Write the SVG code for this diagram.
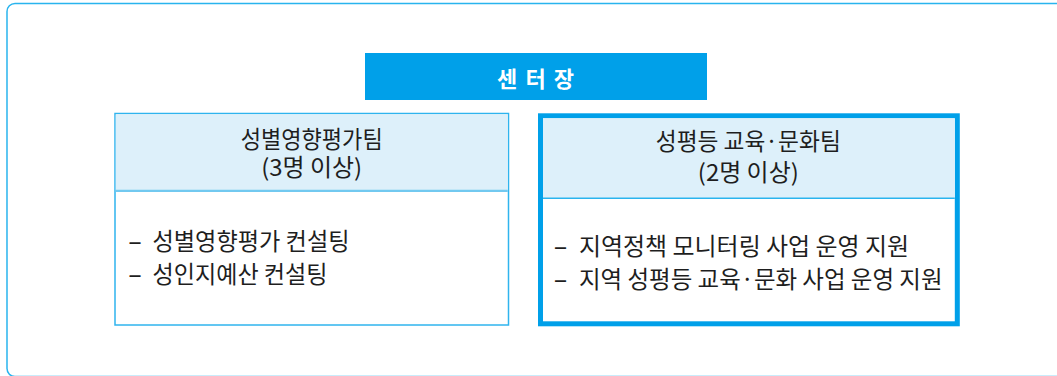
<svg xmlns="http://www.w3.org/2000/svg" width="1057" height="376" viewBox="0 0 1057 376">
<style>
.t{font-family:"Noto Sans CJK KR","Noto Sans",sans-serif;fill:#1e1e1e;font-size:23.5px}
.c{text-anchor:middle}
.hd{fill:#DDF0FA}
</style>
<rect width="1057" height="376" fill="#fff"/>
<rect x="7" y="3.5" width="1065" height="373" rx="8" fill="none" stroke="#29B4EE" stroke-width="1.5"/>
<g id="director">
<rect x="365" y="53" width="342" height="47" fill="#00A0E9"/>
<text x="535.5" y="86.5" class="t c" style="fill:#fff;font-weight:bold;font-size:22px" textLength="77" lengthAdjust="spacing">센 터 장</text>
</g>
<g id="team1">
<rect x="115" y="113.5" width="393.5" height="211.5" fill="#fff" stroke="#2FB4EE" stroke-width="1.5"/>
<rect x="115.75" y="114.25" width="392" height="76" class="hd"/>
<line x1="115.75" y1="190.8" x2="507.75" y2="190.8" stroke="#72C9F0" stroke-width="2.2"/>
<text x="311.7" y="147.5" class="t c" textLength="142" lengthAdjust="spacingAndGlyphs">성별영향평가팀</text>
<text x="311.7" y="175.5" class="t c" textLength="101" lengthAdjust="spacingAndGlyphs">(3명 이상)</text>
<text class="t" y="250"><tspan x="127.5" textLength="15" lengthAdjust="spacingAndGlyphs">-</tspan><tspan x="152.5" textLength="197" lengthAdjust="spacingAndGlyphs">성별영향평가 컨설팅</tspan></text>
<text class="t" y="282.5"><tspan x="127.5" textLength="15" lengthAdjust="spacingAndGlyphs">-</tspan><tspan x="152.5" textLength="175" lengthAdjust="spacingAndGlyphs">성인지예산 컨설팅</tspan></text>
</g>
<g id="team2">
<rect x="540.5" y="115.8" width="416.8" height="208" fill="#fff" stroke="#00A0E9" stroke-width="5"/>
<rect x="543" y="118.3" width="411.8" height="79.5" class="hd"/>
<line x1="543" y1="198.3" x2="954.8" y2="198.3" stroke="#29B4EE" stroke-width="1.5"/>
<text x="748.3" y="150" class="t c" textLength="185" lengthAdjust="spacingAndGlyphs">성평등 교육·문화팀</text>
<text x="748.3" y="181" class="t c" textLength="101" lengthAdjust="spacingAndGlyphs">(2명 이상)</text>
<text class="t" y="254.5"><tspan x="553" textLength="15" lengthAdjust="spacingAndGlyphs">-</tspan><tspan x="579" textLength="330" lengthAdjust="spacingAndGlyphs">지역정책 모니터링 사업 운영 지원</tspan></text>
<text class="t" y="288"><tspan x="553" textLength="15" lengthAdjust="spacingAndGlyphs">-</tspan><tspan x="579" textLength="363.5" lengthAdjust="spacingAndGlyphs">지역 성평등 교육·문화 사업 운영 지원</tspan></text>
</g>
<g id="connectors"></g>
</svg>
